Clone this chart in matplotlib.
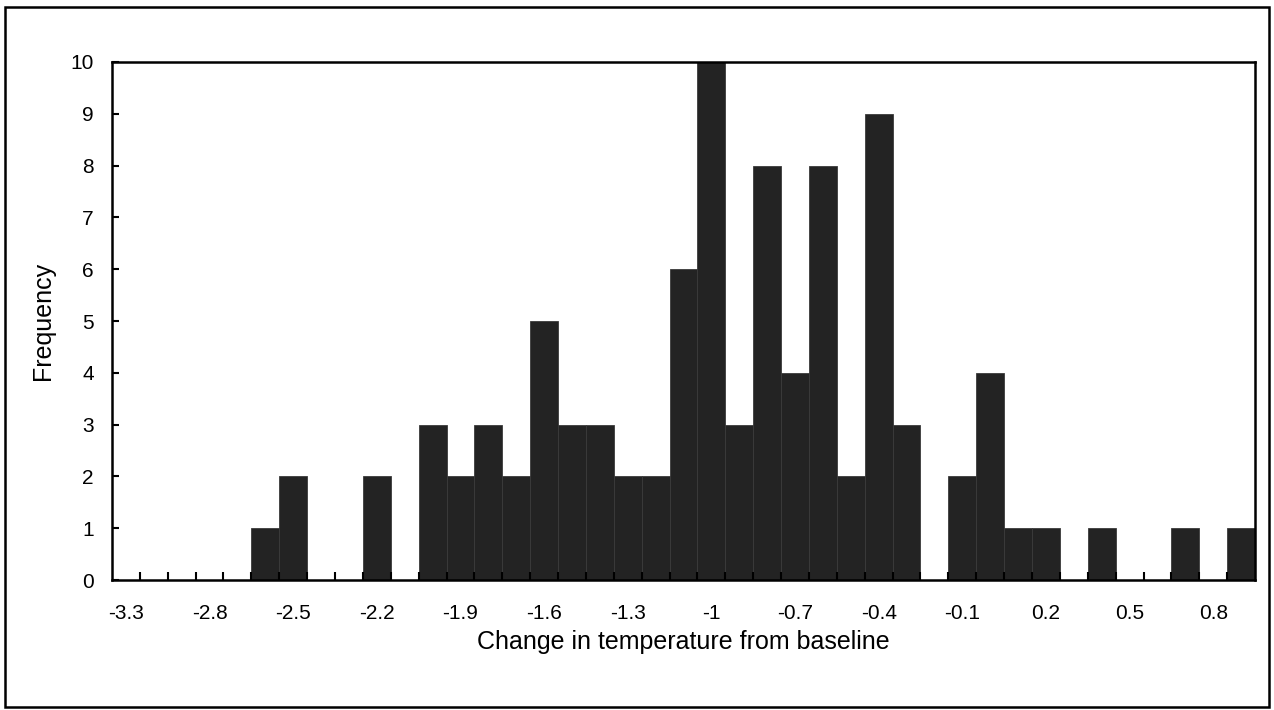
import matplotlib
matplotlib.use("Agg")
import matplotlib.pyplot as plt
from matplotlib.patches import Rectangle
import numpy as np

plt.rcParams['font.family'] = ['Liberation Sans', 'DejaVu Sans']

# frequency per temperature-change bin (41 bins, labelled every third)
counts = [0, 0, 0, 0, 0, 1, 2, 0, 0, 2,
          0, 3, 2, 3, 2, 5, 3, 3, 2, 2,
          6, 10, 3, 8, 4, 8, 2, 9, 3, 0,
          2, 4, 1, 1, 0, 1, 0, 0, 1, 0, 1]
tick_labels = ["-3.3", "-2.8", "-2.5", "-2.2", "-1.9", "-1.6", "-1.3",
               "-1", "-0.7", "-0.4", "-0.1", "0.2", "0.5", "0.8"]

fig = plt.figure(figsize=(12.74, 7.10), dpi=100)
ax = fig.add_axes([0.0879, 0.183, 0.8972, 0.7297])

n = len(counts)
x = np.arange(n)
ax.bar(x, counts, width=1.0, color='#232323', edgecolor='#3a3a3a', linewidth=0.6)

ax.set_xlim(-0.5, n - 0.5)
ax.set_ylim(0, 10)

# category boundary ticks pointing into the plot
ax.set_xticks(np.arange(n - 1) + 0.5)
ax.set_xticklabels([])
ax.set_xticks(np.arange(0, n, 3), minor=True)
ax.set_xticklabels(tick_labels, minor=True)
ax.tick_params(axis='x', which='major', direction='in', length=6, width=1.5, color='black')
ax.tick_params(axis='x', which='minor', length=0, pad=17, labelsize=15)

ax.set_yticks(range(0, 11))
ax.tick_params(axis='y', direction='in', length=5, width=1.5, pad=13, labelsize=15)

for s in ax.spines.values():
    s.set_linewidth(1.8)
    s.set_color('black')

ax.set_xlabel("Change in temperature from baseline", fontsize=18, labelpad=5)
ax.set_ylabel("Frequency", fontsize=18, labelpad=11)

# outer frame round the whole chart
fig.patches.append(Rectangle((0.004, 0.004), 0.992, 0.986, transform=fig.transFigure,
                             fill=False, edgecolor='black', linewidth=1.8))

fig.savefig("out.png", dpi=100)
